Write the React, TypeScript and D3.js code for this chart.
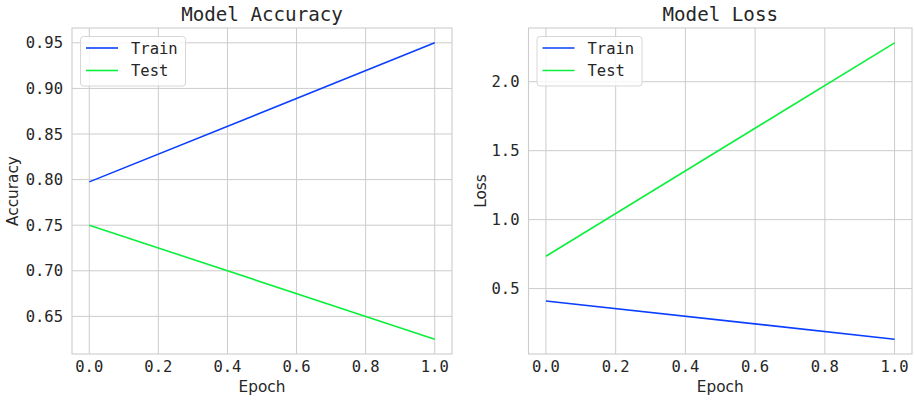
import { useMemo } from 'react'
import * as d3 from 'd3'

const epochs = [0, 1]
const accTrain = [0.7975, 0.95]
const accTest = [0.75, 0.625]
const lossTrain = [0.41, 0.133]
const lossTest = [0.734, 2.282]

const xTicks = [0, 0.2, 0.4, 0.6, 0.8, 1.0]
const accTicks = [0.65, 0.7, 0.75, 0.8, 0.85, 0.9, 0.95]
const lossTicks = [0.5, 1.0, 1.5, 2.0]

const WIDTH = 915
const HEIGHT = 402
const MONO = '"DejaVu Sans Mono", monospace'
const SANS = '"DejaVu Sans", sans-serif'
const TEXT = '#262626'
const GRID = '#cccccc'
const BLUE = '#0a3fff'
const GREEN = '#0bf03c'

type PanelProps = {
  left: number
  right: number
  title: string
  ylabel: string
  ylabelX: number
  train: number[]
  test: number[]
  yTicks: number[]
  yFormat: (v: number) => string
}

function Panel({ left, right, title, ylabel, ylabelX, train, test, yTicks, yFormat }: PanelProps) {
  const top = 28
  const bottom = 354

  const { x, y, trainPath, testPath } = useMemo(() => {
    const all = [...train, ...test]
    const lo = d3.min(all) as number
    const hi = d3.max(all) as number
    const pad = (hi - lo) * 0.05
    const x = d3.scaleLinear().domain([-0.05, 1.05]).range([left, right])
    const y = d3.scaleLinear().domain([lo - pad, hi + pad]).range([bottom, top])
    const line = d3
      .line<number>()
      .x((_, i) => x(epochs[i]))
      .y((d) => y(d))
    return { x, y, trainPath: line(train) || '', testPath: line(test) || '' }
  }, [left, right, train, test])

  const cx = (left + right) / 2
  const legX = left + 8.5
  const legY = 36.5

  return (
    <g>
      <rect x={left} y={top} width={right - left} height={bottom - top} fill="#fff" />
      {xTicks.map((t) => (
        <line key={`gx${t}`} x1={x(t)} x2={x(t)} y1={top} y2={bottom} stroke={GRID} strokeWidth={1} />
      ))}
      {yTicks.map((t) => (
        <line key={`gy${t}`} x1={left} x2={right} y1={y(t)} y2={y(t)} stroke={GRID} strokeWidth={1} />
      ))}
      <rect x={left} y={top} width={right - left} height={bottom - top} fill="none" stroke={GRID} strokeWidth={1.1} />

      <path d={trainPath} fill="none" stroke={BLUE} strokeWidth={1.6} />
      <path d={testPath} fill="none" stroke={GREEN} strokeWidth={1.6} />

      {xTicks.map((t) => (
        <text key={`tx${t}`} x={x(t)} y={372} textAnchor="middle" fontFamily={MONO} fontSize={15.5} fill={TEXT}>
          {t.toFixed(1)}
        </text>
      ))}
      {yTicks.map((t) => (
        <text key={`ty${t}`} x={left - 9} y={y(t)} dy="0.36em" textAnchor="end" fontFamily={MONO} fontSize={15.5} fill={TEXT}>
          {yFormat(t)}
        </text>
      ))}

      <text x={cx} y={21} textAnchor="middle" fontFamily={MONO} fontSize={19.2} fill={TEXT}>
        {title}
      </text>
      <text x={cx} y={392} textAnchor="middle" fontFamily={SANS} fontSize={15.3} fill={TEXT}>
        Epoch
      </text>
      <text
        transform={`translate(${ylabelX} ${(top + bottom) / 2}) rotate(-90)`}
        textAnchor="middle"
        fontFamily={SANS}
        fontSize={15.3}
        fill={TEXT}
      >
        {ylabel}
      </text>

      <g>
        <rect x={legX} y={legY} width={105} height={49.5} rx={3} fill="#fff" fillOpacity={0.8} stroke="#d6d6d6" strokeWidth={1} />
        <line x1={legX + 5.5} x2={legX + 37.5} y1={48} y2={48} stroke={BLUE} strokeWidth={1.6} />
        <line x1={legX + 5.5} x2={legX + 37.5} y1={70.5} y2={70.5} stroke={GREEN} strokeWidth={1.6} />
        <text x={legX + 50.5} y={48} dy="0.36em" fontFamily={MONO} fontSize={15.5} fill={TEXT}>
          Train
        </text>
        <text x={legX + 50.5} y={70.5} dy="0.36em" fontFamily={MONO} fontSize={15.5} fill={TEXT}>
          Test
        </text>
      </g>
    </g>
  )
}

export default function App() {
  return (
    <svg
      width={WIDTH}
      height={HEIGHT}
      viewBox={`0 0 ${WIDTH} ${HEIGHT}`}
      style={{ position: 'absolute', left: 0, top: 0, background: '#fff' }}
    >
      <rect width={WIDTH} height={HEIGHT} fill="#fff" />
      <Panel
        left={72}
        right={452}
        title="Model Accuracy"
        ylabel="Accuracy"
        ylabelX={18}
        train={accTrain}
        test={accTest}
        yTicks={accTicks}
        yFormat={(v) => v.toFixed(2)}
      />
      <Panel
        left={528.5}
        right={912}
        title="Model Loss"
        ylabel="Loss"
        ylabelX={486}
        train={lossTrain}
        test={lossTest}
        yTicks={lossTicks}
        yFormat={(v) => v.toFixed(1)}
      />
    </svg>
  )
}
